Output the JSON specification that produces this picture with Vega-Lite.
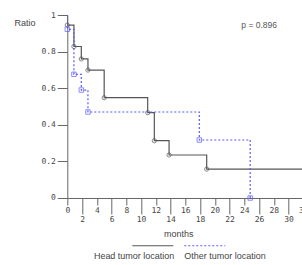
{
  "$schema": "https://vega.github.io/schema/vega-lite/v6.json",
  "width": 236,
  "height": 183,
  "autosize": {"type": "none"},
  "padding": {"left": 67.3, "top": 15, "right": 0, "bottom": 67},
  "background": "white",
  "config": {"view": {"stroke": null}, "font": "Liberation Sans"},
  "data": {"values": [
      {"group": "Head tumor location", "t": 0, "s": 1, "event": false},
      {"group": "Head tumor location", "t": 0, "s": 0.945, "event": true},
      {"group": "Head tumor location", "t": 0.9, "s": 0.828, "event": true},
      {"group": "Head tumor location", "t": 1.9, "s": 0.76, "event": true},
      {"group": "Head tumor location", "t": 2.8, "s": 0.699, "event": true},
      {"group": "Head tumor location", "t": 5.0, "s": 0.548, "event": true},
      {"group": "Head tumor location", "t": 10.9, "s": 0.466, "event": true},
      {"group": "Head tumor location", "t": 11.8, "s": 0.313, "event": true},
      {"group": "Head tumor location", "t": 13.8, "s": 0.235, "event": true},
      {"group": "Head tumor location", "t": 18.9, "s": 0.158, "event": true},
      {"group": "Head tumor location", "t": 32, "s": 0.158, "event": false},
      {"group": "Other tumor location", "t": 0, "s": 1, "event": false},
      {"group": "Other tumor location", "t": 0, "s": 0.922, "event": true},
      {"group": "Other tumor location", "t": 0.9, "s": 0.676, "event": true},
      {"group": "Other tumor location", "t": 1.9, "s": 0.59, "event": true},
      {"group": "Other tumor location", "t": 2.8, "s": 0.47, "event": true},
      {"group": "Other tumor location", "t": 17.9, "s": 0.317, "event": true},
      {"group": "Other tumor location", "t": 24.8, "s": 0, "event": true},
      {"group": "annotation", "t": 23.6, "s": 0.945, "event": false, "label": "p = 0.896"}
  ]},
  "encoding": {
    "x": {
      "field": "t", "type": "quantitative",
      "scale": {"domain": [0, 32], "nice": false, "zero": true},
      "axis": {
        "values": [0, 2, 4, 6, 8, 10, 12, 14, 16, 18, 20, 22, 24, 26, 28, 30, 32],
        "tickCount": 100,
        "format": "d",
        "title": "months",
        "titleFont": "Liberation Sans",
        "titleFontSize": 9,
        "titleFontWeight": "normal",
        "titleColor": "#444444",
        "titleX": 111,
        "titleY": 36,
        "titleAlign": "center",
        "titleBaseline": "middle",
        "labelFont": "DejaVu Sans Mono",
        "labelFontSize": 8,
        "labelColor": "#444444",
        "labelPadding": 2,
        "labelFlush": false,
        "labelOverlap": false,
        "labelBound": false,
        "tickSize": {"condition": {"test": "datum.value % 4 === 0", "value": 7}, "value": 16},
        "tickColor": "#666666",
        "domainColor": "#666666",
        "grid": false
      }
    },
    "y": {
      "field": "s", "type": "quantitative",
      "scale": {"domain": [0, 1], "nice": false},
      "axis": {
        "values": [0, 0.2, 0.4, 0.6, 0.8, 1],
        "tickCount": 100,
        "labelExpr": "datum.value === 0 ? '0' : datum.value === 1 ? '1' : format(datum.value, '.1f')",
        "title": "Ratio",
        "titleAngle": 0,
        "titleX": -53.3,
        "titleY": 7,
        "titleAlign": "left",
        "titleBaseline": "middle",
        "titleFont": "Liberation Sans",
        "titleFontSize": 9,
        "titleFontWeight": "normal",
        "titleColor": "#444444",
        "labelFont": "DejaVu Sans Mono",
        "labelFontSize": 8,
        "labelColor": "#444444",
        "labelPadding": 2,
        "labelOverlap": false,
        "labelFlush": false,
        "tickSize": 10,
        "tickColor": "#666666",
        "domainColor": "#666666",
        "grid": false
      }
    }
  },
  "layer": [
    {
      "transform": [{"filter": "datum.group !== 'annotation'"}],
      "mark": {"type": "line", "interpolate": "step-after", "strokeWidth": 1.2, "clip": true},
      "encoding": {
        "color": {
          "field": "group", "type": "nominal",
          "scale": {"domain": ["Head tumor location", "Other tumor location"], "range": ["#555555", "#5b5bff"]},
          "legend": {
            "title": null,
            "orient": "none",
            "direction": "horizontal",
            "legendX": 64,
            "legendY": 209,
            "symbolType": "stroke",
            "symbolSize": 1681,
            "symbolStrokeWidth": 1.2,
            "labelOffset": 0,
            "columnPadding": 5,
            "padding": 0,
            "labelFont": "Liberation Sans",
            "labelFontSize": 9,
            "labelColor": "#444444",
            "encode": {
              "labels": {"update": {
                "dx": {"signal": "datum.index === 0 ? 0 : -42"},
                "dy": {"value": 10},
                "align": {"signal": "datum.index === 0 ? 'right' : 'left'"}
              }}
            }
          }
        },
        "strokeDash": {
          "field": "group", "type": "nominal",
          "scale": {"domain": ["Head tumor location", "Other tumor location"], "range": [[1, 0], [2, 2]]},
          "legend": {
            "title": null,
            "orient": "none",
            "direction": "horizontal",
            "legendX": 64,
            "legendY": 209,
            "symbolType": "stroke",
            "symbolSize": 1681,
            "symbolStrokeWidth": 1.2,
            "labelOffset": 0,
            "columnPadding": 5,
            "padding": 0,
            "labelFont": "Liberation Sans",
            "labelFontSize": 9,
            "labelColor": "#444444",
            "encode": {
              "labels": {"update": {
                "dx": {"signal": "datum.index === 0 ? 0 : -42"},
                "dy": {"value": 10},
                "align": {"signal": "datum.index === 0 ? 'right' : 'left'"}
              }}
            }
          }
        },
        "order": [{"field": "t", "sort": "ascending"}, {"field": "s", "sort": "descending"}]
      }
    },
    {
      "transform": [{"filter": "datum.event && datum.group === 'Head tumor location'"}],
      "mark": {"type": "point", "shape": "circle", "filled": false, "size": 18, "strokeWidth": 1, "color": "#555555"}
    },
    {
      "transform": [{"filter": "datum.event && datum.group === 'Other tumor location'"}],
      "mark": {"type": "point", "shape": "square", "filled": false, "size": 20, "strokeWidth": 1, "color": "#5b5bff"}
    },
    {
      "transform": [{"filter": "datum.group === 'annotation'"}],
      "mark": {"type": "text", "align": "left", "baseline": "middle", "font": "Liberation Sans", "fontSize": 8.5, "color": "#555555"},
      "encoding": {
        "text": {"field": "label"}
      }
    }
  ]
}
